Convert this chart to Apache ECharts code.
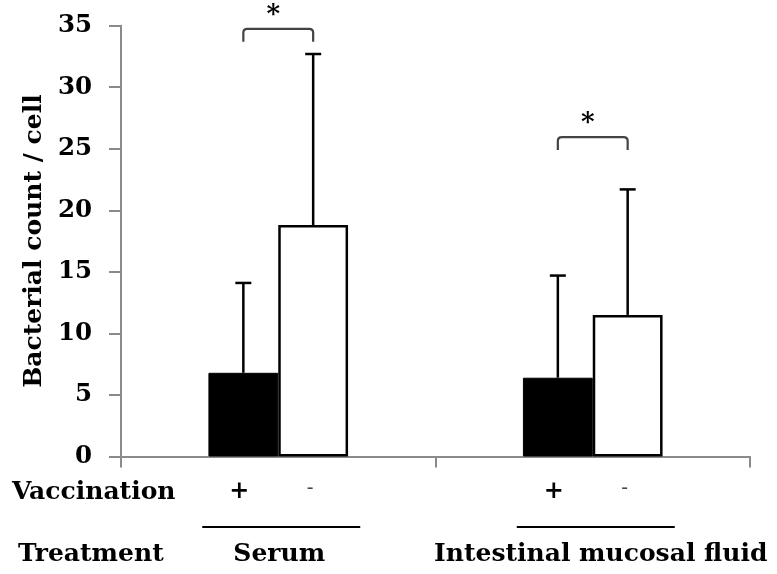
<!DOCTYPE html>
<html>
<head>
<meta charset="utf-8">
<script src="https://cdn.jsdelivr.net/npm/echarts@6/dist/echarts.min.js"></script>
<style>
html,body{margin:0;padding:0;background:#fff;}
#chart{width:777px;height:574px;}
</style>
</head>
<body>
<div id="chart"></div>
<script>
// ---- data ----
const categories = ['Serum', 'Intestinal mucosal fluid'];
const vaccinationLabels = ['+', '-'];
const vaccinatedMean = [6.8, 6.4];
const vaccinatedUpper = [14.1, 14.7];
const unvaccinatedMean = [18.8, 11.5];
const unvaccinatedUpper = [32.7, 21.7];
const bracketLevel = [34.75, 25.95];
const significance = ['*', '*'];
const yMin = 0, yMax = 35, yInterval = 5;
const yAxisTitle = 'Bacterial count / cell';
const rowTitles = ['Vaccination', 'Treatment'];

// ---- style ----
const SERIF = '"DejaVu Serif", serif';
const AXIS_COLOR = '#8a8a8a';
const BAR_W_FRAC = 0.222;

const chart = echarts.init(document.getElementById('chart'), null, {renderer: 'canvas'});

function barHalf(api) {
  return api.size([1, 0])[0] * BAR_W_FRAC / 2;
}

const errData = [];
categories.forEach((c, i) => {
  errData.push([i, vaccinatedMean[i], vaccinatedUpper[i], -1]);
  errData.push([i, unvaccinatedMean[i], unvaccinatedUpper[i], 1]);
});

const option = {
  animation: false,
  backgroundColor: '#fff',
  grid: {left: 121, right: 27, top: 25.7, bottom: 117.5, containLabel: false},
  xAxis: {
    type: 'category',
    data: categories,
    boundaryGap: true,
    axisLine: {lineStyle: {color: AXIS_COLOR, width: 2}},
    axisTick: {show: true, length: 11, interval: 0, lineStyle: {color: AXIS_COLOR, width: 2}},
    axisLabel: {show: false},
    splitLine: {show: false}
  },
  yAxis: {
    type: 'value',
    min: yMin, max: yMax, interval: yInterval,
    name: yAxisTitle,
    nameLocation: 'middle',
    nameGap: 74,
    nameTextStyle: {fontFamily: SERIF, fontWeight: 'bold', fontSize: 25, color: '#000'},
    axisLine: {show: true, lineStyle: {color: AXIS_COLOR, width: 2}},
    axisTick: {show: true, length: 12, lineStyle: {color: AXIS_COLOR, width: 2}},
    axisLabel: {fontFamily: SERIF, fontWeight: 'bold', fontSize: 24.5, color: '#000', margin: 29},
    splitLine: {show: false}
  },
  series: [
    {
      name: 'Vaccinated', type: 'bar', data: vaccinatedMean,
      barWidth: (BAR_W_FRAC * 100) + '%', barGap: '0%',
      itemStyle: {color: '#000', borderColor: '#000', borderWidth: 1}
    },
    {
      name: 'Not vaccinated', type: 'bar', data: unvaccinatedMean,
      barWidth: (BAR_W_FRAC * 100) + '%', barGap: '0%',
      itemStyle: {color: '#fff', borderColor: '#000', borderWidth: 2.5}
    },
    {
      name: 'error', type: 'custom', z: 5,
      data: errData,
      renderItem: function (params, api) {
        const half = barHalf(api);
        const side = api.value(3);
        const p0 = api.coord([api.value(0), api.value(1)]);
        const p1 = api.coord([api.value(0), api.value(2)]);
        const x = p0[0] + side * half;
        const cap = 8;
        return {
          type: 'group',
          children: [
            {type: 'line', shape: {x1: x, y1: p0[1], x2: x, y2: p1[1]}, style: {stroke: '#000', lineWidth: 2.5}},
            {type: 'line', shape: {x1: x - cap, y1: p1[1], x2: x + cap, y2: p1[1]}, style: {stroke: '#000', lineWidth: 2.5}}
          ]
        };
      }
    },
    {
      name: 'brackets', type: 'custom', z: 5,
      data: categories.map((c, i) => [i, bracketLevel[i]]),
      renderItem: function (params, api) {
        const i = api.value(0);
        const half = barHalf(api);
        const p = api.coord([i, api.value(1)]);
        const xl = p[0] - half, xr = p[0] + half;
        const y = p[1], hook = 13, r = 4;
        return {
          type: 'group',
          children: [
            {type: 'path', shape: {pathData:
              'M' + xl + ' ' + (y + hook) + ' L' + xl + ' ' + (y + r) +
              ' Q' + xl + ' ' + y + ' ' + (xl + r) + ' ' + y +
              ' L' + (xr - r) + ' ' + y +
              ' Q' + xr + ' ' + y + ' ' + xr + ' ' + (y + r) +
              ' L' + xr + ' ' + (y + hook)},
              style: {stroke: '#444', lineWidth: 2.2, fill: null}},
            {type: 'text', x: p[0] - 5, y: y - 14, style: {text: significance[i], font: 'bold 26px ' + SERIF, fill: '#000', align: 'center', verticalAlign: 'middle'}}
          ]
        };
      }
    },
    {
      name: 'labels', type: 'custom', z: 5,
      data: categories.map((c, i) => [i, 0]),
      renderItem: function (params, api) {
        const i = api.value(0);
        const half = barHalf(api);
        const p = api.coord([i, 0]);
        const cx = p[0], base = p[1];
        return {
          type: 'group',
          children: [
            {type: 'text', x: cx - half - 4, y: base + 35, style: {text: vaccinationLabels[0], font: 'bold 24px ' + SERIF, fill: '#000', align: 'center', verticalAlign: 'middle'}},
            {type: 'text', x: cx + half - 3, y: base + 32, style: {text: vaccinationLabels[1], font: '20px ' + SERIF, fill: '#444', align: 'center', verticalAlign: 'middle'}},
            {type: 'line', shape: {x1: cx - 76, y1: base + 70.5, x2: cx + 82, y2: base + 70.5}, style: {stroke: '#000', lineWidth: 2}},
            {type: 'text', x: cx + (i === 0 ? 1 : 8), y: base + 98, style: {text: categories[i], font: 'bold 25px ' + SERIF, fill: '#000', align: 'center', verticalAlign: 'middle'}}
          ]
        };
      }
    }
  ],
  graphic: [
    {type: 'text', left: 12, top: 480, style: {text: rowTitles[0], font: 'bold 25px ' + SERIF, fill: '#000'}},
    {type: 'text', left: 18, top: 542, style: {text: rowTitles[1], font: 'bold 25px ' + SERIF, fill: '#000'}}
  ]
};
chart.setOption(option);
</script>
</body>
</html>
